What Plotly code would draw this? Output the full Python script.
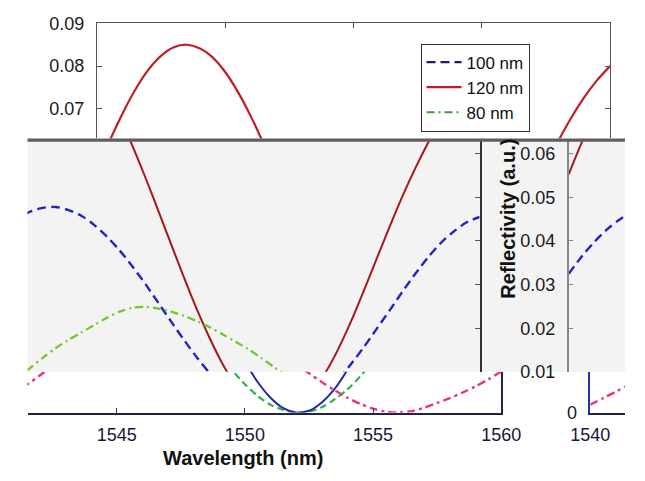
import plotly.graph_objects as go

# ---------------- data ----------------
wavelength = [1540.0, 1540.5, 1541.0, 1541.5, 1542.0, 1542.5, 1543.0, 1543.5, 1544.0, 1544.5,
              1545.0, 1545.5, 1546.0, 1546.5, 1547.0, 1547.5, 1548.0, 1548.5, 1549.0, 1549.5,
              1550.0, 1550.5, 1551.0, 1551.5, 1552.0, 1552.5, 1553.0, 1553.5, 1554.0, 1554.5,
              1555.0, 1555.5, 1556.0, 1556.5, 1557.0, 1557.5, 1558.0, 1558.5, 1559.0, 1559.5,
              1560.0]
r100 = [0.0325, 0.0364, 0.0398, 0.0427, 0.0450, 0.0467, 0.0476, 0.0478, 0.0471, 0.0458,
        0.0437, 0.0410, 0.0378, 0.0341, 0.0301, 0.0258, 0.0215, 0.0173, 0.0133, 0.0097,
        0.0065, 0.0038, 0.0018, 0.0006, 0.0000, 0.0002, 0.0012, 0.0030, 0.0053, 0.0083,
        0.0118, 0.0157, 0.0199, 0.0241, 0.0284, 0.0325, 0.0363, 0.0396, 0.0422, 0.0443,
        0.0455]
r120 = [0.0553, 0.0625, 0.0689, 0.0745, 0.0791, 0.0824, 0.0844, 0.0850, 0.0842, 0.0821,
        0.0786, 0.0739, 0.0682, 0.0617, 0.0545, 0.0469, 0.0392, 0.0316, 0.0243, 0.0177,
        0.0118, 0.0070, 0.0034, 0.0010, 0.0000, 0.0004, 0.0023, 0.0054, 0.0098, 0.0152,
        0.0216, 0.0287, 0.0360, 0.0433, 0.0503, 0.0567, 0.0626, 0.0680, 0.0727, 0.0767,
        0.0800]
r80 = [0.0018, 0.0033, 0.0048, 0.0064, 0.0085, 0.0108, 0.0132, 0.0154, 0.0173, 0.0190,
       0.0207, 0.0224, 0.0238, 0.0247, 0.0249, 0.0245, 0.0238, 0.0228, 0.0216, 0.0202,
       0.0186, 0.0169, 0.0152, 0.0132, 0.0111, 0.0090, 0.0070, 0.0051, 0.0034, 0.0020,
       0.0009, 0.0002, 0.0000, 0.0003, 0.0011, 0.0022, 0.0033, 0.0046, 0.0060, 0.0076,
       0.0094]
series_names = ["100 nm", "120 nm", "80 nm"]

x_tick_vals = [1540, 1545, 1550, 1555, 1560]
x_tick_text = ["1540", "1545", "1550", "1555", "1560"]
y_tick_vals = [0.0, 0.01, 0.02, 0.03, 0.04, 0.05, 0.06, 0.07, 0.08, 0.09]
y_tick_text = ["0", "0.01", "0.02", "0.03", "0.04", "0.05", "0.06", "0.07", "0.08", "0.09"]

# ---------------- layout helpers ----------------
W, H = 645, 481
FONT = "Liberation Sans, Arial, sans-serif"


def dx(a, b):
    return [a / W, b / W]


def dy(top, bottom):
    return [1 - bottom / H, 1 - top / H]


# tiles of the (shifted) picture: pixel domains and visible data ranges
tiles = {
    "1": dict(xd=dx(82, 629), yd=dy(14, 134), xr=[1540, 1560], yr=[0.06303, 0.09]),
    "2": dict(xd=dx(8, 490), yd=dy(137, 377.5), xr=[1542.41, 1560], yr=[0.0100, 0.06286]),
    "3": dict(xd=dx(585, 645), yd=dy(137, 377.5), xr=[1540, 1542.19], yr=[0.0100, 0.06286]),
    "4": dict(xd=dx(8, 513), yd=dy(377.5, 420), xr=[1541.52, 1560], yr=[0.0, 0.00934]),
    "5": dict(xd=dx(608, 645), yd=dy(377.5, 420), xr=[1540, 1541.35], yr=[0.0, 0.00934]),
}

# per-tile styles (colour, dash, width) for 100 / 120 / 80 nm
styles = {
    "1": [("#1b1b80", "9px,5px", 2.2), ("#c21e25", "solid", 2.2), ("#3f9f3a", "8px,4px,2px,4px", 2)],
    "2": [("#2222c8", "9px,5px", 2.4), ("#a81818", "solid", 2.0), ("#66cc22", "8px,4px,2px,4px", 2.2)],
    "3": [("#2222c8", "9px,5px", 2.4), ("#a81818", "solid", 2.0), ("#66cc22", "8px,4px,2px,4px", 2.2)],
    "4": [("#2bb04a", "7px,4px", 2.2), ("#1f2aa8", "solid", 2.0), ("#e8357a", "8px,4px,3px,4px", 2.4)],
    "5": [("#2bb04a", "7px,4px", 2.2), ("#1f2aa8", "solid", 2.0), ("#e8357a", "8px,4px,3px,4px", 2.4)],
}

fig = go.Figure()
all_series = [r100, r120, r80]
for key in ["1", "2", "3", "4", "5"]:
    xa = "x" if key == "1" else "x" + key
    ya = "y" if key == "1" else "y" + key
    for name, vals, (col, dash, w) in zip(series_names, all_series, styles[key]):
        fig.add_trace(go.Scatter(
            x=wavelength, y=vals, mode="lines", name=name,
            line=dict(color=col, dash=dash, width=w, shape="spline", smoothing=0.8),
            xaxis=xa, yaxis=ya, showlegend=(key == "1"), hoverinfo="skip"))

tick_font = dict(family=FONT, size=18, color="#1a1a1a")
base = dict(showgrid=False, zeroline=False, fixedrange=True)

layout = dict(
    width=W, height=H, margin=dict(l=0, r=0, t=0, b=0),
    paper_bgcolor="white", plot_bgcolor="rgba(0,0,0,0)",
    font=dict(family=FONT, size=18, color="#1a1a1a"),
)

# Tile 1: top of the chart (left, top and right frame lines)
layout["xaxis"] = dict(base, domain=tiles["1"]["xd"], range=tiles["1"]["xr"], anchor="y",
                       side="top", showline=True, linecolor="#555555", linewidth=1,
                       ticks="inside", ticklen=5, tickcolor="#555555",
                       tickvals=x_tick_vals, showticklabels=False)
layout["yaxis"] = dict(base, domain=tiles["1"]["yd"], range=tiles["1"]["yr"], anchor="x",
                       showline=True, mirror="ticks", linecolor="#555555", linewidth=1,
                       ticks="inside", ticklen=5, tickcolor="#555555",
                       tickvals=y_tick_vals, ticktext=y_tick_text, tickfont=tick_font,
                       ticklabelstandoff=8)
# Tile 2: middle band (shifted left, right frame line)
layout["xaxis2"] = dict(base, domain=tiles["2"]["xd"], range=tiles["2"]["xr"], anchor="y2",
                        visible=False)
layout["yaxis2"] = dict(base, domain=tiles["2"]["yd"], range=tiles["2"]["yr"], anchor="x2",
                        side="right", showline=True, linecolor="#333333", linewidth=1.5,
                        ticks="inside", ticklen=5, tickcolor="#555555",
                        tickvals=y_tick_vals, showticklabels=False)
# Tile 3: middle band right part (y axis labels + start of plot)
layout["xaxis3"] = dict(base, domain=tiles["3"]["xd"], range=tiles["3"]["xr"], anchor="y3",
                        visible=False)
layout["yaxis3"] = dict(base, domain=tiles["3"]["yd"], range=tiles["3"]["yr"], anchor="x3",
                        side="left", showline=True, linecolor="#888888", linewidth=1.5,
                        ticks="inside", ticklen=5, tickcolor="#888888",
                        tickvals=y_tick_vals, ticktext=y_tick_text, tickfont=tick_font,
                        ticklabelstandoff=8)
# Tile 4: bottom strip (x axis)
bottom_font = dict(family=FONT, size=18, color="#16163a")
layout["xaxis4"] = dict(base, domain=tiles["4"]["xd"], range=tiles["4"]["xr"], anchor="y4",
                        side="bottom", showline=True, linecolor="#222244", linewidth=1.5,
                        ticks="inside", ticklen=5, tickcolor="#2233aa",
                        tickvals=x_tick_vals, ticktext=x_tick_text, tickfont=bottom_font,
                        ticklabelstandoff=5)
layout["yaxis4"] = dict(base, domain=tiles["4"]["yd"], range=tiles["4"]["yr"], anchor="x4",
                        side="right", showline=True, linecolor="#222244", linewidth=1.5,
                        showticklabels=False)
# Tile 5: bottom right corner
layout["xaxis5"] = dict(base, domain=tiles["5"]["xd"], range=tiles["5"]["xr"], anchor="y5",
                        side="bottom", showline=True, linecolor="#222244", linewidth=1.5,
                        ticks="", tickvals=x_tick_vals, ticktext=x_tick_text,
                        tickfont=bottom_font, ticklabelstandoff=5)
layout["yaxis5"] = dict(base, domain=tiles["5"]["yd"], range=tiles["5"]["yr"], anchor="x5",
                        side="left", showline=True, linecolor="#2233aa", linewidth=1.5,
                        ticks="", tickvals=y_tick_vals, ticktext=y_tick_text,
                        tickfont=bottom_font, ticklabelstandoff=8)

layout["legend"] = dict(
    x=427 / W, y=1 - 35 / H, xanchor="left", yanchor="top",
    bgcolor="white", bordercolor="#333333", borderwidth=1,
    font=dict(family=FONT, size=17, color="#111111"), itemwidth=35,
    tracegroupgap=0)

layout["shapes"] = [
    # light grey band behind the middle strip
    dict(type="rect", xref="paper", yref="paper", x0=8 / W, x1=1, y0=1 - 377.5 / H, y1=1 - 137 / H,
         fillcolor="#f3f3f3", line=dict(width=0), layer="below"),
    # dark seam line between top strip and middle strip
    dict(type="rect", xref="paper", yref="paper", x0=8 / W, x1=1, y0=1 - 137.5 / H, y1=1 - 134 / H,
         fillcolor="#5e5e5e", line=dict(width=0), layer="above"),
]

layout["annotations"] = [
    dict(text="<b>Reflectivity (a.u.)</b>", x=520 / W, y=1 - 218 / H, xref="paper", yref="paper",
         textangle=-90, showarrow=False, xanchor="center", yanchor="middle",
         font=dict(family=FONT, size=20, color="#111111")),
    dict(text="<b>Wavelength (nm)</b>", x=238 / W, y=1 - 467 / H, xref="paper", yref="paper",
         showarrow=False, xanchor="center", yanchor="middle",
         font=dict(family=FONT, size=20, color="#111111")),
]

fig.update_layout(**layout)
fig.write_html("out.html",
               config={"displayModeBar": False},
               post_script="document.body.style.margin='0';document.body.style.overflow='hidden';")
